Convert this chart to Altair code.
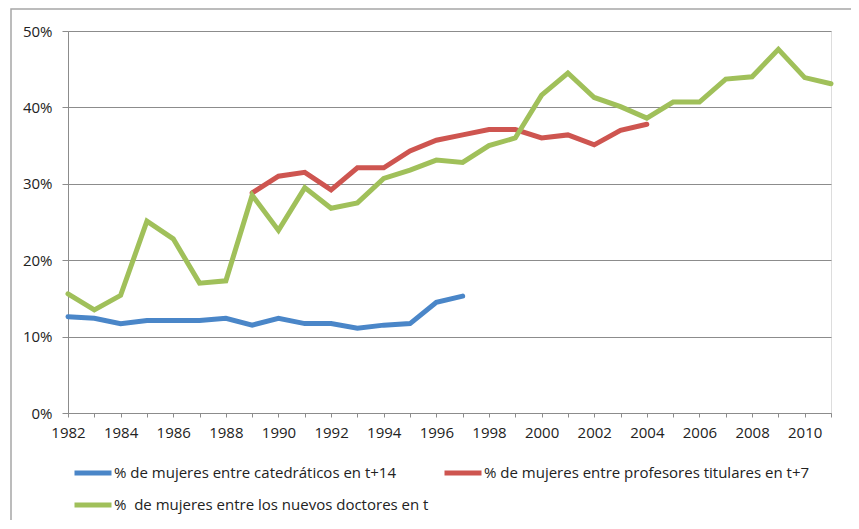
import altair as alt
import pandas as pd

years = list(range(1982, 2012))
series_names = [
    "% de mujeres entre catedráticos en t+14",
    "% de mujeres entre profesores titulares en t+7",
    "%\u00a0 de mujeres entre los nuevos doctores en t",
]
catedraticos = [12.6, 12.4, 11.7, 12.1, 12.1, 12.1, 12.4, 11.5, 12.4, 11.7, 11.7, 11.1, 11.5, 11.7, 14.5, 15.3] + [None] * 14
titulares = [None] * 7 + [28.8, 31.0, 31.5, 29.2, 32.1, 32.1, 34.3, 35.7, 36.4, 37.1, 37.1, 36.0, 36.4, 35.1, 37.0, 37.8] + [None] * 7
doctores = [15.6, 13.5, 15.4, 25.1, 22.8, 17.0, 17.3, 28.5, 23.9, 29.5, 26.8, 27.5, 30.7, 31.8, 33.1, 32.8,
            35.0, 36.0, 41.6, 44.5, 41.3, 40.1, 38.6, 40.7, 40.7, 43.7, 44.0, 47.6, 43.9, 43.1]
colors = ["#4A86C8", "#CE5550", "#A0C05A"]
y_ticks = [0, 10, 20, 30, 40, 50]

rows = []
for name, vals in zip(series_names, [catedraticos, titulares, doctores]):
    for yr, v in zip(years, vals):
        if v is not None:
            rows.append({"year": yr, "value": v, "serie": name})
df = pd.DataFrame(rows)

FONT = "Open Sans"
GRID = "#8C8C8C"
FS = 15

lines = alt.Chart(df).mark_line(strokeWidth=5, strokeCap="round", strokeJoin="miter").encode(
    x=alt.X("year:Q",
            scale=alt.Scale(domain=[1982, 2011], nice=False, zero=False),
            axis=alt.Axis(values=years, labelExpr="datum.value % 2 == 0 ? datum.value : ''",
                          title=None, grid=False, tickSize=4, labelPadding=8,
                          domainColor=GRID, tickColor=GRID, labelFont=FONT, labelFontSize=FS,
                          labelColor="#222222", labelFlush=False, labelOverlap=False)),
    y=alt.Y("value:Q",
            scale=alt.Scale(domain=[0, 50], nice=False),
            axis=alt.Axis(values=y_ticks, labelExpr="datum.value + '%'", title=None,
                          grid=True, gridColor=GRID, gridWidth=1.2, tickSize=6, labelPadding=10,
                          domainColor=GRID, tickColor=GRID, labelFont=FONT, labelFontSize=FS,
                          labelColor="#222222")),
    color=alt.Color("serie:N",
                    scale=alt.Scale(domain=series_names, range=colors),
                    legend=alt.Legend(orient="none", legendX=4, legendY=421, direction="horizontal",
                                      columns=2, title=None, symbolType="stroke", symbolSize=1369,
                                      symbolStrokeWidth=5, labelOffset=0, columnPadding=5,
                                      rowPadding=1, labelFont=FONT, labelFontSize=FS,
                                      labelColor="#222222", padding=0, labelLimit=500)),
    detail="serie:N",
)

border = alt.Chart(alt.Data(values=[{"a": 1}])).mark_rect(
    filled=False, stroke="#A6A6A6", strokeWidth=1.5
).encode(
    x=alt.value(-57), x2=alt.value(950), y=alt.value(-22), y2=alt.value(800)
)

chart = alt.layer(border, lines).properties(
    width=763, height=382,
    autosize=alt.AutoSizeParams(type="none"),
    padding={"left": 60, "top": 23, "right": 20, "bottom": 107},
).configure_view(stroke=None).configure(background="white")

chart.save("out.html", embed_options={"renderer": "svg", "actions": False})
